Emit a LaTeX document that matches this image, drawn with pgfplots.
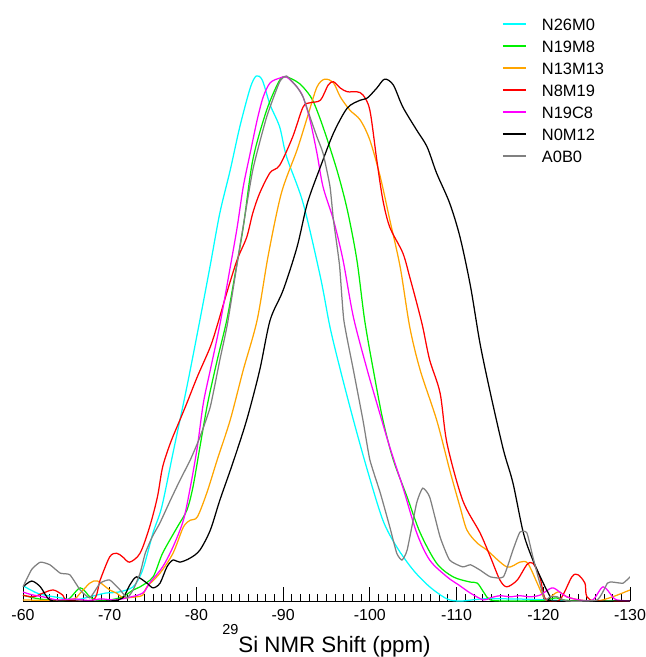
\documentclass[border=0pt]{standalone}
\usepackage{fontspec}
\setmainfont{Liberation Sans}
\usepackage{pgfplots}
\pgfplotsset{compat=1.18}
\definecolor{cCyan}{RGB}{0,255,255}
\definecolor{cGreen}{RGB}{0,240,0}
\definecolor{cOrange}{RGB}{255,165,0}
\definecolor{cRed}{RGB}{255,0,0}
\definecolor{cMagenta}{RGB}{255,0,255}
\definecolor{cGray}{RGB}{128,128,128}
\begin{document}
\begin{tikzpicture}
\begin{axis}[
  scale only axis, width=607bp, height=601bp,
  xmin=-130, xmax=-60, x dir=reverse,
  ymin=0, ymax=1.1448,
  axis x line*=bottom, axis y line=none,
  xtick={-60,-70,-80,-90,-100,-110,-120,-130},
  xticklabels={-60,-70,-80,-90,-100,-110,-120,-130},
  minor x tick num=9,
  xtick align=inside,
  major tick length=14bp, minor tick length=7bp,
  tick style={black, line width=0.8bp},
  axis line style={black, line width=1bp},
  xticklabel style={font=\fontsize{16}{16}\selectfont, anchor=north, inner sep=0pt, yshift=-8bp},
  xlabel={\raisebox{18.5bp}{\fontsize{14.5}{14.5}\selectfont 29}Si NMR Shift (ppm)},
  xlabel style={at={(axis description cs:0.5,0)}, anchor=north, inner sep=0pt, yshift=-23bp, font=\fontsize{22.4}{22.4}\selectfont},
  legend style={draw=none, fill=none, inner sep=0pt, outer sep=0pt, at={(0.789,0.970)}, anchor=north west,
    font=\fontsize{16.5}{16.5}\selectfont, row sep=10bp, column sep=15bp,
    nodes={inner sep=0pt, text height=12bp, text depth=0bp}},
  legend cell align=left,
  clip=true,
]
\coordinate (O) at (axis description cs:0,0);
\addlegendimage{legend image code/.code={\draw[cCyan, line width=2bp] (0bp,0bp) -- (23bp,0bp);}}
\addlegendimage{legend image code/.code={\draw[cGreen, line width=2bp] (0bp,0bp) -- (23bp,0bp);}}
\addlegendimage{legend image code/.code={\draw[cOrange, line width=2bp] (0bp,0bp) -- (23bp,0bp);}}
\addlegendimage{legend image code/.code={\draw[cRed, line width=2bp] (0bp,0bp) -- (23bp,0bp);}}
\addlegendimage{legend image code/.code={\draw[cMagenta, line width=2bp] (0bp,0bp) -- (23bp,0bp);}}
\addlegendimage{legend image code/.code={\draw[black, line width=2bp] (0bp,0bp) -- (23bp,0bp);}}
\addlegendimage{legend image code/.code={\draw[cGray, line width=2bp] (0bp,0bp) -- (23bp,0bp);}}
% N26M0
\addplot[cCyan, smooth, line width=1.25bp, forget plot] coordinates {
(-60.0,0.029)(-61.0,0.020)(-62.0,0.013)(-64.3,0.006)(-66.0,0.002)(-67.7,0.008)(-69.5,0.015)(-71.0,0.017)(-72.7,0.027)
(-73.8,0.059)(-75.0,0.130)(-76.0,0.179)(-77.3,0.282)(-78.9,0.408)(-80.4,0.535)(-81.6,0.640)(-82.7,0.739)(-83.9,0.821)
(-85.0,0.903)(-86.2,0.977)(-86.9,1.000)(-87.6,0.992)(-88.5,0.945)(-89.6,0.903)(-90.4,0.846)(-92.3,0.758)(-94.3,0.617)
(-95.4,0.522)(-96.6,0.440)(-98.1,0.345)(-99.7,0.250)(-101.5,0.154)(-103.1,0.103)(-105.0,0.059)(-106.9,0.027)(-108.9,0.004)
(-110.5,0.000)(-113,0.004)(-116,0.004)(-119,0.003)(-122,0.001)(-126,0.000)(-130,0.000)};
% N19M8
\addplot[cGreen, smooth, line width=1.25bp, forget plot] coordinates {
(-60.0,0.011)(-61.5,0.005)(-63.1,0.002)(-65.1,0.002)(-66.6,0.025)(-67.7,0.008)(-68.5,0.002)(-70.0,0.002)(-71.5,0.008)
(-72.7,0.021)(-73.5,0.027)(-75.0,0.046)(-76.1,0.091)(-77.8,0.141)(-78.9,0.173)(-79.6,0.217)(-80.4,0.293)(-81.3,0.377)
(-82.4,0.459)(-83.5,0.535)(-84.4,0.617)(-85.4,0.712)(-86.5,0.840)(-88.1,0.935)(-89.6,0.992)(-90.4,0.998)(-91.5,0.990)
(-92.3,0.979)(-93.4,0.954)(-94.6,0.903)(-96.2,0.821)(-97.4,0.745)(-98.5,0.650)(-99.4,0.535)(-100.4,0.440)(-101.5,0.345)
(-102.7,0.269)(-104.3,0.198)(-105.8,0.130)(-107.7,0.072)(-109.6,0.046)(-111.6,0.036)(-112.4,0.034)(-113.2,0.015)
(-113.9,0.002)(-116,0.000)(-120,0.001)(-121.5,0.006)(-123,0.001)(-130,0.000)};
% N13M13
\addplot[cOrange, smooth, line width=1.25bp, forget plot] coordinates {
(-60,0.002)(-65.4,0.002)(-66.6,0.015)(-67.7,0.034)(-68.6,0.038)(-70.0,0.021)(-70.8,0.015)(-71.5,0.006)(-72.0,0.006)
(-73.1,0.008)(-73.8,0.011)(-74.3,0.027)(-75.8,0.053)(-77.3,0.091)(-78.5,0.141)(-79.3,0.154)(-80.1,0.160)(-81.2,0.206)
(-82.4,0.269)(-83.9,0.345)(-85.4,0.440)(-87.0,0.535)(-88.3,0.660)(-89.8,0.777)(-91.6,0.859)(-92.8,0.922)(-93.9,0.979)
(-94.8,0.994)(-95.8,0.987)(-96.6,0.960)(-97.7,0.935)(-98.9,0.916)(-100.0,0.878)(-101.2,0.808)(-102.3,0.726)(-103.5,0.636)
(-104.6,0.522)(-105.8,0.440)(-107.7,0.345)(-109.2,0.250)(-110.4,0.179)(-111.2,0.135)(-112.4,0.110)(-113.5,0.097)
(-115.8,0.065)(-117.3,0.074)(-118.2,0.072)(-119.3,0.034)(-120.0,0.008)(-120.4,0.002)(-121.4,0.015)(-121.9,0.017)
(-122.7,0.008)(-124.2,0.002)(-126.2,0.000)(-128.0,0.008)(-130,0.021)};
% N8M19
\addplot[cRed, smooth, line width=1.25bp, forget plot] coordinates {
(-60,0.011)(-61.2,0.008)(-62.3,0.015)(-63.5,0.021)(-64.6,0.011)(-65.1,0.002)(-68.1,0.002)(-68.9,0.040)(-70.0,0.084)
(-70.8,0.091)(-71.5,0.084)(-72.3,0.074)(-73.5,0.091)(-74.6,0.141)(-75.5,0.198)(-76.1,0.255)(-77.0,0.301)(-78.1,0.345)
(-78.9,0.377)(-80.1,0.427)(-81.6,0.484)(-82.4,0.525)(-83.5,0.587)(-84.7,0.650)(-85.8,0.693)(-86.5,0.739)(-87.3,0.777)
(-88.5,0.816)(-89.6,0.830)(-91.1,0.884)(-92.3,0.941)(-93.1,0.949)(-94.3,0.954)(-95.2,0.983)(-95.8,0.989)(-96.6,0.977)
(-97.4,0.970)(-98.5,0.970)(-99.2,0.964)(-100.0,0.935)(-100.8,0.840)(-101.5,0.764)(-102.3,0.712)(-103.8,0.663)(-104.6,0.617)
(-105.4,0.568)(-106.1,0.522)(-106.9,0.459)(-108.1,0.396)(-108.9,0.300)(-110.7,0.192)(-112.7,0.130)(-113.9,0.084)
(-115.0,0.040)(-115.8,0.027)(-117.0,0.040)(-118.1,0.069)(-118.8,0.072)(-119.6,0.046)(-120.0,0.015)(-120.4,0.002)
(-121.9,0.002)(-123.3,0.046)(-124.0,0.050)(-124.8,0.034)(-125.4,0.002)(-130,0.000)};
% N19C8
\addplot[cMagenta, smooth, line width=1.25bp, forget plot] coordinates {
(-60,0.017)(-61,0.012)(-62.3,0.008)(-64,0.002)(-66,0.004)(-67.5,0.001)(-69,0.004)(-70.5,0.002)(-72.0,0.006)(-73.8,0.015)
(-74.6,0.034)(-76.1,0.065)(-77.3,0.103)(-78.5,0.154)(-79.3,0.217)(-80.1,0.293)(-80.8,0.377)(-81.6,0.440)(-82.7,0.526)
(-83.9,0.636)(-84.7,0.712)(-85.4,0.789)(-86.2,0.853)(-87.0,0.916)(-87.7,0.960)(-88.5,0.987)(-89.6,0.996)(-90.4,0.998)
(-91.6,0.979)(-92.3,0.960)(-93.1,0.916)(-93.9,0.853)(-94.6,0.789)(-95.8,0.726)(-96.9,0.650)(-98.1,0.541)(-99.7,0.440)
(-100.8,0.377)(-102.3,0.293)(-103.8,0.217)(-105.4,0.130)(-106.9,0.078)(-108.9,0.046)(-110.3,0.030)(-111.6,0.015)
(-113.1,0.002)(-113.9,0.006)(-115,0.010)(-116.2,0.008)(-117.3,0.010)(-118.5,0.008)(-119.6,0.011)(-121.0,0.025)
(-121.9,0.017)(-122.7,0.008)(-124.2,0.002)(-125.7,0.002)(-126.9,0.027)(-128.0,0.008)(-128.5,0.002)(-130,0.000)};
% N0M12
\addplot[black, smooth, line width=1.25bp, forget plot] coordinates {
(-60,0.027)(-61.0,0.038)(-62.0,0.027)(-63.1,0.002)(-65,0.000)(-70,0.000)(-71.5,0.006)(-72.3,0.030)(-73.1,0.046)
(-74.3,0.034)(-75.0,0.025)(-75.8,0.034)(-76.6,0.065)(-77.3,0.078)(-78.1,0.074)(-79.3,0.082)(-80.4,0.097)(-81.6,0.135)
(-82.7,0.192)(-84.2,0.263)(-85.8,0.345)(-87.3,0.440)(-88.5,0.535)(-90.0,0.592)(-91.6,0.674)(-92.8,0.758)(-94.3,0.827)
(-95.8,0.891)(-97.4,0.939)(-98.9,0.954)(-99.7,0.958)(-100.8,0.977)(-101.7,0.994)(-102.7,0.983)(-103.8,0.941)(-105.4,0.897)
(-106.6,0.865)(-107.7,0.815)(-109.2,0.758)(-110.4,0.693)(-111.6,0.600)(-112.7,0.491)(-113.9,0.396)(-115.4,0.288)
(-116.5,0.225)(-117.7,0.130)(-118.8,0.078)(-120.0,0.034)(-120.8,0.008)(-121.1,0.000)(-130,0.000)};
% A0B0
\addplot[cGray, smooth, tension=0.3, line width=1.25bp, forget plot] coordinates {
(-60,0.027)(-61.0,0.060)(-62.0,0.074)(-63.1,0.069)(-64.3,0.053)(-65.4,0.050)(-66.6,0.021)(-67.7,0.006)(-68.9,0.034)
(-70.0,0.040)(-71.2,0.021)(-72.0,0.006)(-72.7,0.021)(-73.5,0.053)(-74.1,0.091)(-74.9,0.122)(-75.8,0.149)(-77.0,0.192)
(-78.1,0.230)(-79.3,0.269)(-80.4,0.312)(-81.6,0.370)(-82.7,0.459)(-83.6,0.530)(-85.0,0.674)(-86.5,0.821)(-88.1,0.922)
(-89.6,0.989)(-90.4,1.000)(-91.6,0.979)(-92.3,0.960)(-93.1,0.922)(-93.9,0.884)(-94.6,0.853)(-95.4,0.790)(-95.8,0.726)
(-96.5,0.640)(-97.0,0.535)(-98.1,0.440)(-99.2,0.345)(-100.0,0.269)(-101.2,0.206)(-102.3,0.141)(-103.1,0.091)(-103.7,0.078)
(-104.3,0.097)(-105.4,0.187)(-106.1,0.215)(-106.9,0.198)(-108.1,0.122)(-109.2,0.078)(-110.7,0.065)(-111.6,0.069)
(-112.7,0.059)(-113.9,0.046)(-115.4,0.046)(-116.5,0.097)(-117.3,0.131)(-118.1,0.130)(-118.8,0.084)(-119.6,0.034)
(-120.2,0.002)(-120.8,0.008)(-121.6,0.008)(-122.7,0.000)(-126.2,0.002)(-127.4,0.034)(-128.0,0.036)(-129.2,0.034)(-130,0.046)};
\legend{N26M0,N19M8,N13M13,N8M19,N19C8,N0M12,A0B0}
\end{axis}
\pgfresetboundingbox
\path ([shift={(-23bp,-56bp)}]O) rectangle ([shift={(623bp,601bp)}]O);
\end{tikzpicture}
\end{document}
